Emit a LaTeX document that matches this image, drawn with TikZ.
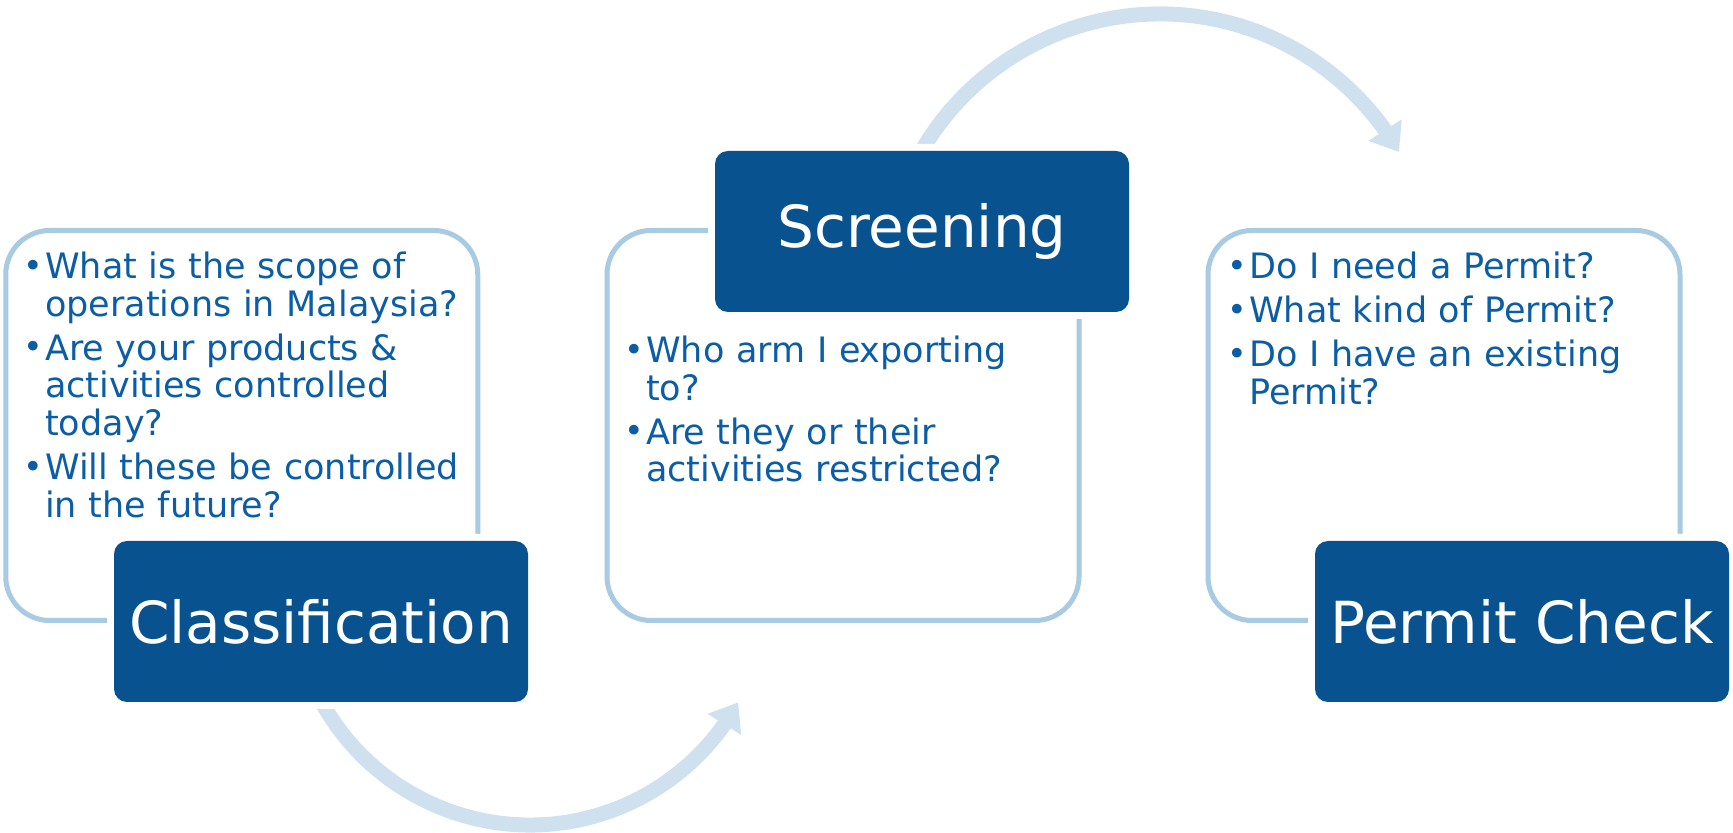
\documentclass[tikz,border=0pt]{standalone}
\usepackage{fontspec}
\setmainfont{DejaVu Sans}
\usetikzlibrary{arrows.meta}
\usetikzlibrary{bending}

\definecolor{stagecol}{HTML}{08528F}
\definecolor{framecol}{HTML}{A8CAE2}
\definecolor{flowcol}{HTML}{CFE1EE}
\definecolor{qcol}{HTML}{0B5DA5}

\newcommand{\qline}[1]{\hangindent=18pt\hangafter=1\noindent\makebox[18pt][l]{\hspace{-4pt}\raisebox{.04em}{\scalebox{.95}{\textbullet}}}#1\par}

\begin{document}
\begin{tikzpicture}[x=1pt, y=1pt,
    framebox/.style={draw=framecol, line width=5pt, rounded corners=44pt, minimum width=472pt, minimum height=390pt, inner sep=0pt},
    stagebox/.style={fill=stagecol, text=white, rounded corners=13pt, minimum width=414pt, minimum height=161pt, inner sep=0pt, font=\fontsize{58}{60}\selectfont, preaction={draw=white, line width=14pt}},
    qtext/.style={text=qcol, text width=470pt, align=left, inner sep=0pt, anchor=north west, font={\fontsize{35}{37.6}\selectfont\setlength{\parskip}{6.4pt}}},
    flow/.style={draw=flowcol, line width=15pt, -{Triangle[width=38pt,length=26pt]}}]
    \useasboundingbox (0,0) rectangle (1733,833);

    % arc centres
    \coordinate (lowc) at (530,246);
    \coordinate (highc) at (1160,543);
    \draw[flow] ([shift={(205:238)}]lowc) arc[start angle=205, end angle=331, radius=238pt];
    \draw[flow] ([shift={(155:276)}]highc) arc[start angle=155, end angle=30, radius=276pt];

    \node[framebox] (classbox) at (241.75,407.5) {};
    \node[framebox] (screenbox) at (843,407.5) {};
    \node[framebox] (permitbox) at (1444,407.5) {};

    \node[qtext] (classq) at (27,581) {\qline{What is the scope of\newline operations in Malaysia?}\qline{Are your products \&\newline activities controlled\newline today?}\qline{Will these be controlled\newline in the future?}};
    \node[qtext] (screenq) at (628,497) {\qline{Who arm I exporting\newline to?}\qline{Are they or their\newline activities restricted?}};
    \node[qtext] (permitq) at (1231,581) {\qline{Do I need a Permit?}\qline{What kind of Permit?}\qline{Do I have an existing\newline Permit?}};

    \node[stagebox] (class) at (321,211.5) {Classification};
    \node[stagebox] (screen) at (922,601.5) {Screening};
    \node[stagebox] (permit) at (1522,211.5) {Permit Check};
\end{tikzpicture}
\end{document}
